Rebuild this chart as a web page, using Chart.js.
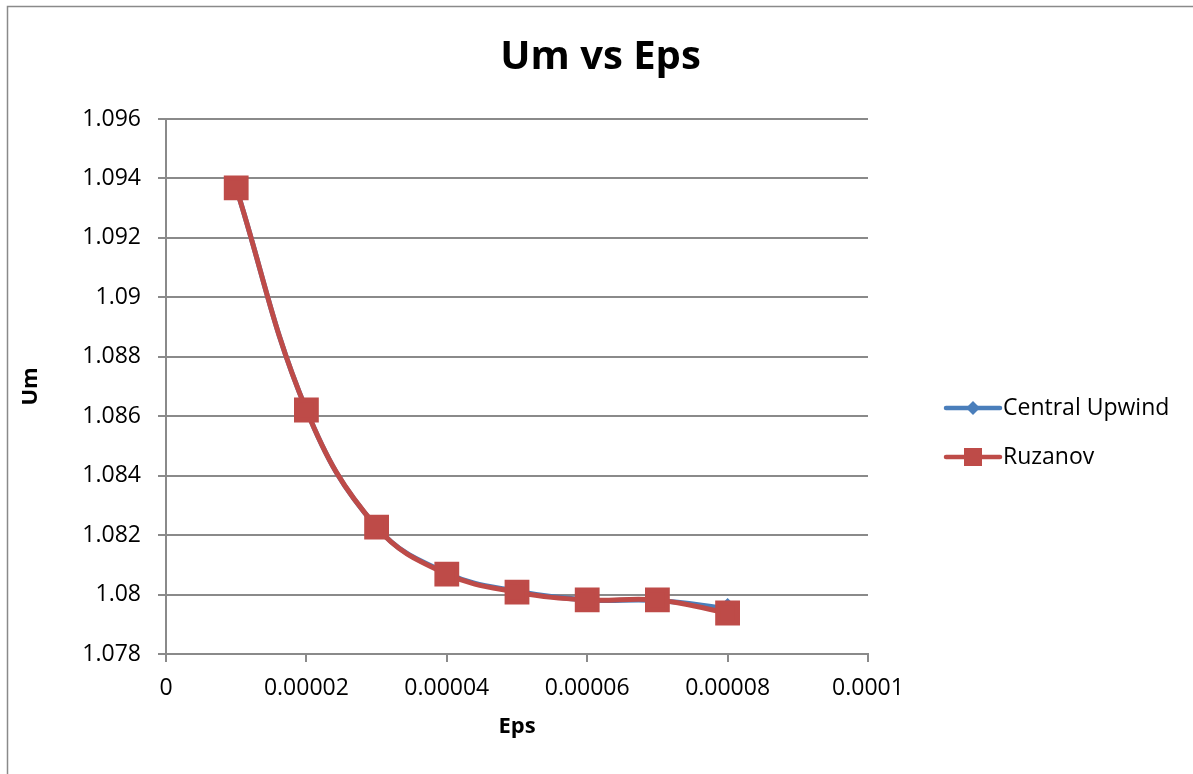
<!DOCTYPE html>
<html>
<head>
<meta charset="utf-8">
<script src="https://cdn.jsdelivr.net/npm/chart.js@4.4.1/dist/chart.umd.min.js"></script>
<style>
  html, body { margin: 0; padding: 0; background: #fff; }
  #wrap { width: 1193px; height: 774px; }
</style>
</head>
<body>
<div id="wrap"><canvas id="umChart" width="1193" height="774"></canvas></div>
<script>
// valores
const eps = [0.00001, 0.00002, 0.00003, 0.00004, 0.00005, 0.00006, 0.00007, 0.00008];
const centralUpwind = [1.09368, 1.08621, 1.08227, 1.08072, 1.08011, 1.07982, 1.07980, 1.07953];
const ruzanov = [1.09368, 1.08621, 1.08227, 1.08069, 1.08008, 1.07982, 1.07982, 1.07938];
const xTicks = [0, 0.00002, 0.00004, 0.00006, 0.00008, 0.0001];
const yTicks = [1.078, 1.08, 1.082, 1.084, 1.086, 1.088, 1.09, 1.092, 1.094, 1.096];

const axisGray = '#8a8a8a';
const font = 'Open Sans';

const toPoints = (xs, ys) => xs.map((x, i) => ({ x: x, y: ys[i] }));

// moldura e legenda no estilo do Excel
const excelLook = {
    id: 'excelLook',
    beforeDraw(chart) {
        const ctx = chart.ctx;
        ctx.save();
        ctx.fillStyle = '#fff';
        ctx.fillRect(0, 0, chart.width, chart.height);
        ctx.strokeStyle = axisGray;
        ctx.lineWidth = 1.5;
        ctx.strokeRect(7.5, 6.5, chart.width + 10, chart.height + 10);
        ctx.restore();
    },
    afterDraw(chart) {
        const ctx = chart.ctx;
        const area = chart.chartArea;
        const x0 = area.right + 78;
        chart.data.datasets.forEach((ds, i) => {
            const y = area.top + 289 + i * 49;
            ctx.save();
            ctx.strokeStyle = ds.borderColor;
            ctx.lineWidth = 4.5;
            ctx.lineCap = 'round';
            ctx.beginPath();
            ctx.moveTo(x0, y);
            ctx.lineTo(x0 + 54, y);
            ctx.stroke();
            ctx.fillStyle = ds.backgroundColor;
            if (ds.pointStyle === 'rect') {
                ctx.fillRect(x0 + 27 - 9, y - 9, 18, 18);
            } else {
                ctx.beginPath();
                ctx.moveTo(x0 + 27, y - 7);
                ctx.lineTo(x0 + 34, y);
                ctx.lineTo(x0 + 27, y + 7);
                ctx.lineTo(x0 + 20, y);
                ctx.closePath();
                ctx.fill();
            }
            ctx.fillStyle = '#000';
            ctx.font = '23px "' + font + '"';
            ctx.textBaseline = 'middle';
            ctx.fillText(ds.label, x0 + 57, y);
            ctx.restore();
        });
    }
};

const ctx = document.getElementById('umChart').getContext('2d');

new Chart(ctx, {
    type: 'line',
    data: {
        datasets: [{
            label: 'Central Upwind',
            data: toPoints(eps, centralUpwind),
            borderColor: '#4A7EBB',
            backgroundColor: '#4A7EBB',
            borderWidth: 5,
            pointStyle: 'rectRot',
            pointRadius: 7,
            tension: 0.4,
            order: 2
        }, {
            label: 'Ruzanov',
            data: toPoints(eps, ruzanov),
            borderColor: '#BE4B48',
            backgroundColor: '#BE4B48',
            borderWidth: 5,
            pointStyle: 'rect',
            pointRadius: 14,
            tension: 0.4,
            order: 1
        }]
    },
    options: {
        responsive: false,
        animation: false,
        layout: { padding: { left: 8, right: 0, top: 0, bottom: 0 } },
        plugins: {
            legend: { display: false },
            tooltip: { enabled: false },
            title: {
                display: true,
                text: 'Um vs Eps',
                color: '#000',
                font: { family: font, size: 40, weight: 'bold' },
                padding: { top: 34, bottom: 37 }
            }
        },
        scales: {
            x: {
                type: 'linear',
                min: 0,
                max: 0.0001,
                afterBuildTicks: s => { s.ticks = xTicks.map(v => ({ value: v })); },
                afterFit: s => { s.height = 120; },
                ticks: {
                    color: '#000',
                    font: { family: font, size: 23 },
                    padding: 13,
                    maxRotation: 0,
                    callback: v => String(Number(v.toFixed(6)))
                },
                grid: { display: true, drawOnChartArea: false, drawTicks: true, tickLength: 8, color: axisGray, lineWidth: 2 },
                border: { display: true, color: axisGray, width: 2 },
                title: {
                    display: true,
                    text: 'Eps',
                    color: '#000',
                    font: { family: font, size: 22, weight: 'bold' },
                    padding: { top: 0, bottom: 34 }
                }
            },
            y: {
                min: 1.078,
                max: 1.096,
                afterBuildTicks: s => { s.ticks = yTicks.map(v => ({ value: v })); },
                afterFit: s => { s.width = 158; },
                ticks: {
                    color: '#000',
                    font: { family: font, size: 23 },
                    padding: 17,
                    callback: v => String(Number(v.toFixed(3)))
                },
                grid: { color: axisGray, lineWidth: 2, tickLength: 8 },
                border: { display: true, color: axisGray, width: 2 },
                title: {
                    display: true,
                    text: 'Um',
                    color: '#000',
                    font: { family: font, size: 22, weight: 'bold' },
                    padding: { top: 10, bottom: 0 }
                }
            },
            // espaço reservado à direita para a legenda
            legendSpace: {
                type: 'linear',
                position: 'right',
                display: true,
                grid: { display: false },
                border: { display: false },
                ticks: { display: false },
                afterFit: s => { s.width = 325; }
            }
        }
    },
    plugins: [excelLook]
});
</script>
</body>
</html>
